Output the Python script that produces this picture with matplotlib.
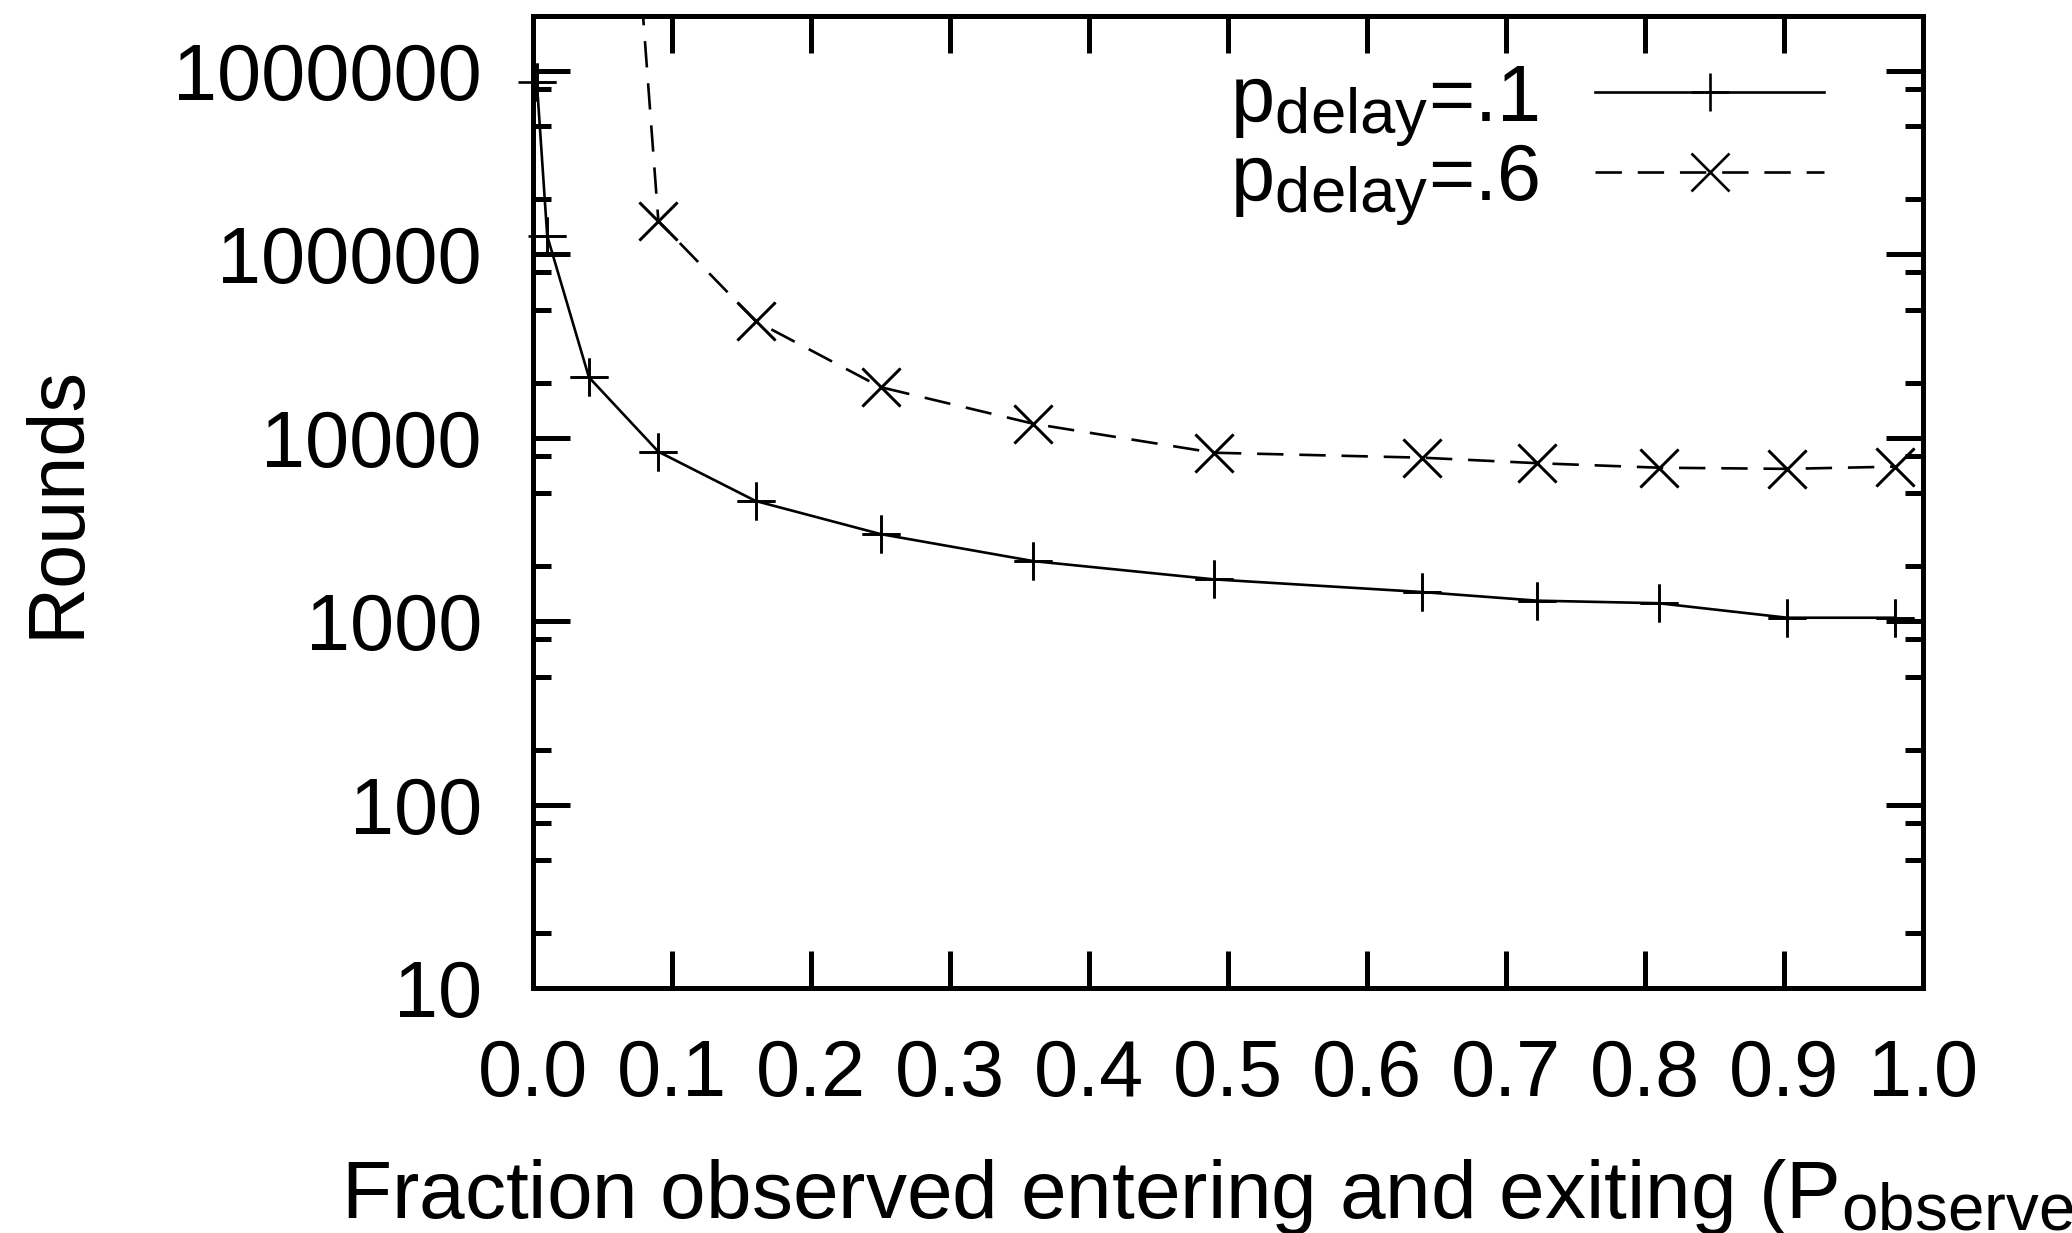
import numpy as np
import matplotlib
matplotlib.use("Agg")
import matplotlib.pyplot as plt
import matplotlib._mathtext as mathtext_internal
from matplotlib.ticker import LogLocator, FixedLocator, NullFormatter

plt.rcParams['font.family'] = ['Liberation Sans', 'DejaVu Sans']
plt.rcParams['mathtext.fontset'] = 'custom'
plt.rcParams['mathtext.rm'] = 'Liberation Sans'
# gnuplot subscripts are a bit larger than matplotlib's default 0.7
mathtext_internal.SHRINK_FACTOR = 0.8

# fraction observed (P_observe) and rounds
x_low = [0.0025, 0.01, 0.04, 0.09, 0.16, 0.25, 0.36, 0.49, 0.64, 0.7225, 0.81, 0.9025, 0.9801]
rounds_low = [873000, 126000, 21400, 8410, 4530, 2990, 2130, 1694, 1445, 1297, 1256, 1047, 1047]

x_high = [0.04, 0.09, 0.16, 0.25, 0.36, 0.49, 0.64, 0.7225, 0.81, 0.9025, 0.9801]
rounds_high = [1.8e10, 152000, 43300, 18900, 11940, 8300, 7800, 7280, 6880, 6780, 6970]

labels = [r'$\mathregular{p_{delay}}$=.1', r'$\mathregular{p_{delay}}$=.6']
xticks = [0.0, 0.1, 0.2, 0.3, 0.4, 0.5, 0.6, 0.7, 0.8, 0.9, 1.0]
yticks = [10, 100, 1000, 10000, 100000, 1000000]
ylim = (10, 2e6)

fs = 57
fig = plt.figure(figsize=(20.72, 12.33), dpi=100)
ax = fig.add_axes([0.2574, 0.1984, 0.6705, 0.7889])

lw = 1.9
ms = 28
ax.plot(x_low, rounds_low, color='black', lw=lw, marker='+', ms=ms, mew=lw,
        label=labels[0])
ax.plot(x_high, rounds_high, color='black', lw=lw, ls=(0, (10, 6)), marker='x',
        ms=ms, mew=lw, label=labels[1])

# markers drawn unclipped, as gnuplot does near the border
for xs, ys, m in [(x_low, rounds_low, '+'), (x_high, rounds_high, 'x')]:
    ys = np.array(ys, dtype=float)
    keep = ys <= ylim[1]
    ax.plot(np.array(xs)[keep], ys[keep], ls='none', marker=m, ms=ms, mew=lw,
            color='black', clip_on=False)

ax.set_yscale('log')
ax.set_xlim(0, 1)
ax.set_ylim(*ylim)

ax.xaxis.set_major_locator(FixedLocator(xticks))
ax.set_xticklabels(['%.1f' % v for v in xticks])
ax.yaxis.set_major_locator(FixedLocator(yticks))
ax.set_yticklabels([str(v) for v in yticks])
ax.yaxis.set_minor_locator(LogLocator(base=10, subs=(2, 5, 8)))
ax.yaxis.set_minor_formatter(NullFormatter())

ax.tick_params(which='both', direction='in', top=True, right=True, width=3.6,
               labelsize=fs)
ax.tick_params(which='major', length=26.6)
ax.tick_params(which='minor', length=13)
ax.tick_params(axis='x', pad=36)
ax.tick_params(axis='y', pad=37)
for sp in ax.spines.values():
    sp.set_linewidth(3.6)

leg = ax.legend(loc='upper right', bbox_to_anchor=(1824 / 2072, 1 - 62 / 1233),
                bbox_transform=fig.transFigure, frameon=False, markerfirst=False,
                fontsize=fs, handlelength=2.89, handletextpad=0.71,
                borderpad=0, borderaxespad=0, labelspacing=-0.08, numpoints=1)

fig.text(58 / 2072, 1 - 502 / 1233, 'Rounds', rotation=90, ha='center',
         va='center', fontsize=fs)
fig.text(341 / 2072, 1 - 1218 / 1233,
         r'Fraction observed entering and exiting ($\mathregular{P_{observe}}$)',
         ha='left', va='baseline', fontsize=59)

fig.savefig('out.png', dpi=100)
